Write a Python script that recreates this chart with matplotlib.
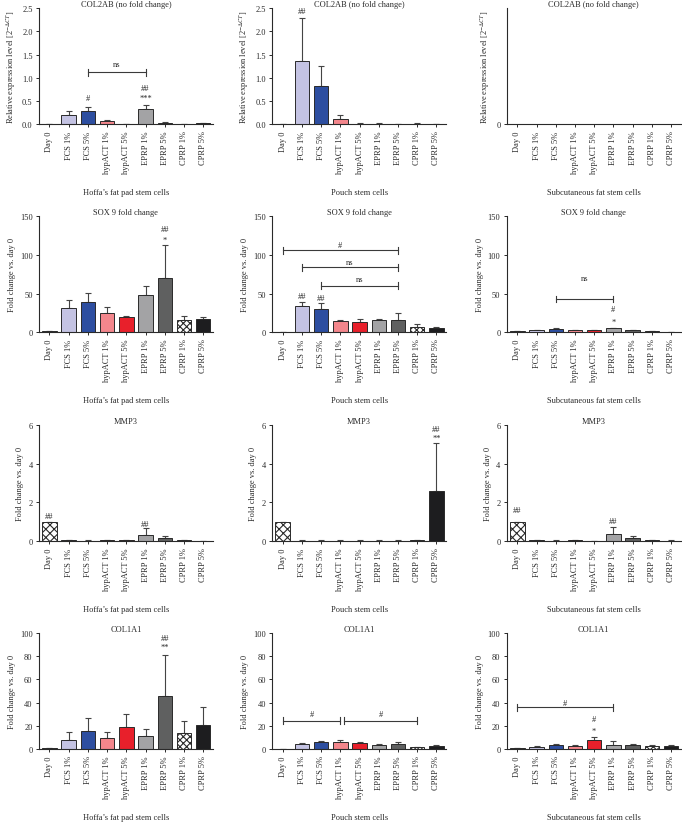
import numpy as np
import matplotlib
matplotlib.use("Agg")
import matplotlib.pyplot as plt

plt.rcParams['font.family'] = ['Liberation Serif', 'DejaVu Serif']
plt.rcParams['mathtext.fontset'] = 'stix'
plt.rcParams['hatch.linewidth'] = 0.8

groups = ["Day 0", "FCS 1%", "FCS 5%", "hypACT 1%", "hypACT 5%",
          "EPRP 1%", "EPRP 5%", "CPRP 1%", "CPRP 5%"]
cells = ["Hoffa\u2019s fat pad stem cells", "Pouch stem cells", "Subcutaneous fat stem cells"]
colors = ["white", "#c4c3e3", "#2d4ea0", "#f3868c", "#e8202b",
          "#a3a3a5", "#5f6060", "white", "#1d1d1f"]
hatches = ["xxxx", None, None, None, None, None, None, "xxxxx", None]

# COL2AB (relative expression), mean and top of error bar
col2ab_hoffa = [0, 0.20, 0.275, 0.06, 0, 0.33, 0.035, 0, 0.015]
col2ab_hoffa_err = [0, 0.29, 0.38, 0.09, 0, 0.41, 0.045, 0, 0.02]
col2ab_pouch = [0, 1.37, 0.83, 0.12, 0.01, 0.01, 0.01, 0.01, 0.0]
col2ab_pouch_err = [0, 2.29, 1.25, 0.20, 0.015, 0.015, 0.012, 0.02, 0.0]

# SOX9 fold change
sox9_hoffa = [1, 31, 39.4, 24.4, 19.7, 47.6, 70.3, 15.9, 17.6]
sox9_hoffa_err = [1, 42, 50.6, 32.6, 21, 60.4, 113, 21.4, 20]
sox9_pouch = [0.5, 33.4, 29.6, 14.6, 13.3, 15.4, 16.3, 7.3, 5.6]
sox9_pouch_err = [0.5, 39.4, 37.3, 16.3, 16.7, 17.1, 25.3, 11.1, 6.9]
sox9_subq = [1, 2.5, 4.5, 2.5, 3, 5, 2.5, 1, 0.5]
sox9_subq_err = [1, 3, 5, 3, 3.5, 6, 3, 1.5, 0.7]

# MMP3 fold change
mmp3_hoffa = [1.0, 0.05, 0.03, 0.05, 0.05, 0.34, 0.15, 0.05, 0.02]
mmp3_hoffa_err = [1.0, 0.07, 0.04, 0.06, 0.06, 0.70, 0.26, 0.07, 0.03]
mmp3_pouch = [1.01, 0.03, 0.03, 0.03, 0.03, 0.03, 0.03, 0.04, 2.6]
mmp3_pouch_err = [1.01, 0.04, 0.04, 0.04, 0.04, 0.04, 0.04, 0.06, 5.07]
mmp3_subq = [1.0, 0.05, 0.03, 0.04, 0.02, 0.36, 0.15, 0.06, 0.03]
mmp3_subq_err = [1.0, 0.07, 0.04, 0.05, 0.03, 0.72, 0.29, 0.08, 0.04]

# COL1A1 fold change
col1a1_hoffa = [0.7, 8, 15.2, 9.5, 18.7, 11.2, 45.4, 13.5, 20.7]
col1a1_hoffa_err = [0.7, 14.4, 27, 15, 30.2, 17, 81.3, 24.4, 36.5]
col1a1_pouch = [0, 4.6, 6, 5.7, 5.2, 3.4, 4, 1.4, 2.6]
col1a1_pouch_err = [0, 5.5, 7.2, 8, 6, 4, 6, 2, 3.2]
col1a1_subq = [0.5, 2, 3.7, 2.6, 8, 3.7, 3.7, 2.6, 2.6]
col1a1_subq_err = [0.5, 2.6, 4.3, 3.1, 10, 6.6, 4.3, 3.1, 3.4]

# significance marks: (group index, y, text)
col2ab_hoffa_marks = [(2, 0.56, "#"), (5, 0.56, "***"), (5, 0.78, "##")]
col2ab_pouch_marks = [(1, 2.43, "##")]
sox9_hoffa_marks = [(6, 119, "*"), (6, 134, "##")]
sox9_pouch_marks = [(1, 47, "##"), (2, 44.6, "##")]
sox9_subq_marks = [(5, 13, "*"), (5, 30, "#")]
mmp3_hoffa_marks = [(0, 1.3, "##"), (5, 0.88, "##")]
mmp3_pouch_marks = [(8, 5.35, "**"), (8, 5.8, "##")]
mmp3_subq_marks = [(0, 1.6, "##"), (5, 1.03, "##")]
col1a1_hoffa_marks = [(6, 88, "**"), (6, 95.7, "##")]
col1a1_subq_marks = [(4, 15.7, "*"), (4, 25.7, "#")]

# brackets: (from group, to group, line y, text y, text)
col2ab_hoffa_brackets = [(2, 5, 1.12, 1.29, "ns")]
sox9_pouch_brackets = [(0, 6, 106, 113, "#"), (1, 6, 83.7, 91, "ns"), (2, 6, 60.4, 68.6, "ns")]
sox9_subq_brackets = [(2, 5, 43, 70, "ns")]
col1a1_pouch_brackets = [(0, 3, 24.4, 30, "#"), (3.2, 7, 24.4, 30, "#")]
col1a1_subq_brackets = [(0, 5, 35.9, 40, "#")]

ylab_rel = r"Relative expression level [2$^{-\Delta CT}$]"
ylab_fold = "Fold change vs. day 0"

panels = [
    ("COL2AB (no fold change)", ylab_rel, [0, 0.5, 1.0, 1.5, 2.0, 2.5], "%.1f",
     [(col2ab_hoffa, col2ab_hoffa_err, col2ab_hoffa_marks, col2ab_hoffa_brackets),
      (col2ab_pouch, col2ab_pouch_err, col2ab_pouch_marks, []),
      (None, None, [], [])]),
    ("SOX 9 fold change", ylab_fold, [0, 50, 100, 150], "%d",
     [(sox9_hoffa, sox9_hoffa_err, sox9_hoffa_marks, []),
      (sox9_pouch, sox9_pouch_err, sox9_pouch_marks, sox9_pouch_brackets),
      (sox9_subq, sox9_subq_err, sox9_subq_marks, sox9_subq_brackets)]),
    ("MMP3", ylab_fold, [0, 2, 4, 6], "%d",
     [(mmp3_hoffa, mmp3_hoffa_err, mmp3_hoffa_marks, []),
      (mmp3_pouch, mmp3_pouch_err, mmp3_pouch_marks, []),
      (mmp3_subq, mmp3_subq_err, mmp3_subq_marks, [])]),
    ("COL1A1", ylab_fold, [0, 20, 40, 60, 80, 100], "%d",
     [(col1a1_hoffa, col1a1_hoffa_err, col1a1_hoffa_marks, []),
      (col1a1_pouch, col1a1_pouch_err, [], col1a1_pouch_brackets),
      (col1a1_subq, col1a1_subq_err, col1a1_subq_marks, col1a1_subq_brackets)]),
]

fig = plt.figure(figsize=(6.82, 8.29), dpi=100)
row_bottoms = [0.849, 0.598, 0.346, 0.0953]
col_lefts = [0.057, 0.399, 0.743]
ink = "#2a2a2a"
fs = 6.0
x = np.arange(len(groups))

for r, (title, ylab, yticks, fmt, cols) in enumerate(panels):
    for c, (vals, errs, marks, brackets) in enumerate(cols):
        ax = fig.add_axes([col_lefts[c], row_bottoms[r], 0.255, 0.14])
        ymax = yticks[-1]
        if vals is not None:
            vals = np.array(vals)
            up = np.array(errs) - vals
            ax.errorbar(x, vals, yerr=[np.zeros_like(vals), up], fmt="none",
                        ecolor="#444444", elinewidth=0.8, capsize=2.5, capthick=0.8, zorder=1)
            for i in range(len(groups)):
                ax.bar(x[i], vals[i], width=0.75, color=colors[i], edgecolor=ink,
                       linewidth=0.7, hatch=hatches[i], zorder=2)
            ax.set_ylim(0, ymax)
            ax.set_yticks(yticks)
            ax.set_yticklabels([fmt % t for t in yticks])
        else:
            ax.set_ylim(0, 1)
            ax.set_yticks([0])
            ax.set_yticklabels(["0"])
        for gi, yy, txt in marks:
            ax.text(gi, yy, txt, ha="center", va="center", fontsize=fs, color=ink)
        d = 0.03 * ymax
        for g1, g2, yl, yt, txt in brackets:
            ax.plot([g1, g2], [yl, yl], color="#3a3a3a", lw=0.8)
            ax.plot([g1, g1], [yl - d, yl + d], color="#3a3a3a", lw=0.8)
            ax.plot([g2, g2], [yl - d, yl + d], color="#3a3a3a", lw=0.8)
            ax.text((g1 + g2) / 2, yt, txt, ha="center", va="center", fontsize=fs, color=ink)
        ax.set_xlim(-0.55, 8.5)
        ax.set_xticks(x)
        ax.set_xticklabels(groups, rotation=90, fontsize=fs)
        ax.tick_params(axis="both", labelsize=fs, length=2.5, width=0.7, colors=ink, pad=2)
        for s in ["top", "right"]:
            ax.spines[s].set_visible(False)
        for s in ["left", "bottom"]:
            ax.spines[s].set_linewidth(0.8)
            ax.spines[s].set_color(ink)
        ax.set_title(title, fontsize=fs, pad=1, color=ink)
        ax.set_ylabel(ylab, fontsize=fs, color=ink, labelpad=3)
        ax.set_xlabel(cells[c], fontsize=fs, color=ink, labelpad=11)

fig.savefig("out.png", dpi=100)
